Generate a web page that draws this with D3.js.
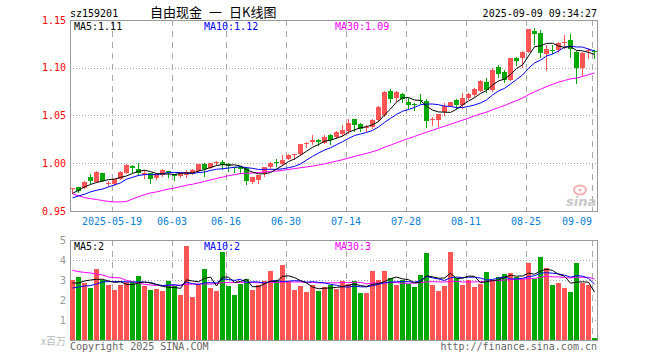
<!DOCTYPE html>
<html><head><meta charset="utf-8">
<script src="https://cdn.jsdelivr.net/npm/d3@7"></script>
<style>body{margin:0;background:#fff}svg{display:block}</style>
</head><body>
<svg id="c" width="660" height="360"></svg>
<script>
const symbol = "sz159201";
const titleParts = ["自由现金", "一", "日K线图"];
const timestamp = "2025-09-09 09:34:27";
const dates = [
"2025-05-08","2025-05-09","2025-05-12","2025-05-13","2025-05-14","2025-05-15","2025-05-16","2025-05-19","2025-05-20","2025-05-21",
"2025-05-22","2025-05-23","2025-05-26","2025-05-27","2025-05-28","2025-05-29","2025-05-30","2025-06-03","2025-06-04","2025-06-05",
"2025-06-06","2025-06-09","2025-06-10","2025-06-11","2025-06-12","2025-06-13","2025-06-16","2025-06-17","2025-06-18","2025-06-19",
"2025-06-20","2025-06-23","2025-06-24","2025-06-25","2025-06-26","2025-06-27","2025-06-30","2025-07-01","2025-07-02","2025-07-03",
"2025-07-04","2025-07-07","2025-07-08","2025-07-09","2025-07-10","2025-07-11","2025-07-14","2025-07-15","2025-07-16","2025-07-17",
"2025-07-18","2025-07-21","2025-07-22","2025-07-23","2025-07-24","2025-07-25","2025-07-28","2025-07-29","2025-07-30","2025-07-31",
"2025-08-01","2025-08-04","2025-08-05","2025-08-06","2025-08-07","2025-08-08","2025-08-11","2025-08-12","2025-08-13","2025-08-14",
"2025-08-15","2025-08-18","2025-08-19","2025-08-20","2025-08-21","2025-08-22","2025-08-25","2025-08-26","2025-08-27","2025-08-28",
"2025-08-29","2025-09-01","2025-09-02","2025-09-03","2025-09-04","2025-09-05","2025-09-08","2025-09-09"];
const openP = [
0.9740,0.9752,0.9745,0.9860,0.9800,0.9898,0.9785,0.9780,0.9839,0.9902,
0.9972,0.9940,0.9880,0.9898,0.9849,0.9877,0.9919,0.9888,0.9867,0.9880,
0.9891,0.9919,0.9993,0.9951,1.0008,1.0014,0.9993,0.9958,0.9964,0.9948,
0.9801,0.9822,0.9895,0.9964,1.0009,0.9990,1.0042,1.0085,1.0094,1.0205,
1.0223,1.0244,1.0216,1.0293,1.0279,1.0307,1.0338,1.0461,1.0411,1.0378,
1.0377,1.0453,1.0506,1.0757,1.0681,1.0726,1.0645,1.0621,1.0663,1.0652,
1.0450,1.0453,1.0534,1.0603,1.0663,1.0605,1.0681,1.0712,1.0760,1.0854,
1.0764,1.1011,1.0959,1.0872,1.1099,1.1099,1.1168,1.1385,1.1361,1.1141,
1.1185,1.1186,1.1265,1.1291,1.1168,1.0998,1.1180,1.1180];
const highP = [
0.9745,0.9755,0.9810,0.9885,0.9920,0.9900,0.9818,0.9840,0.9916,0.9988,
0.9979,1.0003,0.9930,0.9900,0.9902,0.9940,0.9920,0.9890,0.9900,0.9930,
0.9935,0.9995,0.9998,1.0005,1.0021,1.0035,1.0003,0.9964,0.9972,0.9961,
0.9860,0.9880,0.9960,1.0017,1.0048,1.0087,1.0101,1.0094,1.0200,1.0226,
1.0299,1.0254,1.0299,1.0307,1.0338,1.0404,1.0461,1.0467,1.0425,1.0401,
1.0464,1.0595,1.0757,1.0775,1.0752,1.0739,1.0681,1.0635,1.0726,1.0670,
1.0488,1.0520,1.0628,1.0645,1.0676,1.0733,1.0731,1.0783,1.0867,1.0890,
1.0995,1.1029,1.0977,1.1107,1.1116,1.1180,1.1408,1.1411,1.1396,1.1239,
1.1239,1.1274,1.1343,1.1354,1.1176,1.1165,1.1204,1.1186];
const lowP = [
0.9689,0.9700,0.9740,0.9797,0.9800,0.9810,0.9765,0.9775,0.9835,0.9900,
0.9909,0.9880,0.9846,0.9790,0.9836,0.9867,0.9860,0.9825,0.9860,0.9853,
0.9885,0.9910,0.9870,0.9948,0.9985,0.9943,0.9923,0.9912,0.9895,0.9786,
0.9795,0.9797,0.9867,0.9948,0.9975,0.9985,1.0040,1.0045,1.0090,1.0168,
1.0205,1.0192,1.0210,1.0205,1.0265,1.0296,1.0317,1.0338,1.0338,1.0341,
1.0370,1.0443,1.0495,1.0645,1.0652,1.0645,1.0576,1.0558,1.0628,1.0383,
1.0401,1.0390,1.0506,1.0600,1.0576,1.0576,1.0670,1.0705,1.0757,1.0750,
1.0757,1.0907,1.0848,1.0867,1.1026,1.1005,1.1165,1.1246,1.1116,1.0977,
1.1152,1.1168,1.1204,1.1110,1.0844,1.0925,1.1099,1.1099];
const closeP = [
0.9745,0.9713,0.9807,0.9818,0.9909,0.9818,0.9791,0.9836,0.9906,0.9985,
0.9951,0.9898,0.9895,0.9832,0.9885,0.9930,0.9895,0.9867,0.9895,0.9909,
0.9930,0.9993,0.9943,1.0003,1.0011,0.9979,0.9969,0.9954,0.9943,0.9818,
0.9853,0.9877,0.9958,1.0006,1.0005,1.0035,1.0084,1.0094,1.0199,1.0216,
1.0244,1.0223,1.0275,1.0244,1.0328,1.0349,1.0425,1.0398,1.0359,1.0383,
1.0453,1.0586,1.0750,1.0670,1.0743,1.0670,1.0610,1.0616,1.0652,1.0446,
1.0461,1.0513,1.0603,1.0639,1.0610,1.0687,1.0720,1.0775,1.0859,1.0764,
1.0977,1.0935,1.0872,1.1099,1.1074,1.1168,1.1403,1.1354,1.1152,1.1197,
1.1179,1.1263,1.1274,1.1194,1.0995,1.1158,1.1186,1.1165];
const volume = [
3.00,3.15,2.87,2.60,3.55,3.00,2.75,2.50,2.75,2.92,
2.90,3.20,2.72,2.50,2.55,2.45,2.95,2.70,2.25,4.70,
2.15,2.75,3.55,2.60,2.45,4.40,2.70,2.25,2.80,3.05,
2.50,2.75,2.95,3.45,3.00,3.75,2.90,2.50,2.70,2.40,
2.75,2.45,2.65,2.75,2.55,2.95,2.80,2.95,2.35,2.35,
3.45,3.00,3.45,3.08,2.75,3.00,2.80,2.65,3.25,4.35,
2.75,2.45,2.70,4.40,3.12,2.75,3.00,2.65,2.80,3.40,
3.00,3.15,3.30,3.35,3.15,3.05,3.85,3.05,4.15,3.60,
2.75,2.85,2.60,2.40,3.85,2.85,2.75,0.10];
// moving-average values for the first bars (history before the window)
const ma5Lead = [0.9685,0.9716,0.9752,0.9778];
const ma10Lead = [0.9637,0.9658,0.9675,0.9700,0.9717,0.9730,0.9752,0.9773,0.9794];
const ma30Lead = [0.9680,0.9660,0.9640,0.9630,0.9620,0.9610,0.9600,0.9595,0.9595,0.9600,
0.9625,0.9650,0.9670,0.9690,0.9700,0.9715,0.9730,0.9740,0.9755,0.9770,
0.9780,0.9795,0.9810,0.9825,0.9840,0.9855,0.9870,0.9880,0.9893];
const volMa5Lead = [2.85,2.85,2.95,3.00];
const volMa10Lead = [2.60,2.65,2.70,2.72,2.80,2.90,2.92,2.92,2.92];
const volMa30Lead = [3.48,3.42,3.38,3.35,3.30,3.25,3.15,3.12,3.10,2.98,
2.92,2.85,2.78,2.75,2.73,2.72,2.72,2.73,2.75,2.78,
2.80,2.80,2.80,2.80,2.82,2.87,2.88,2.88,2.88];
const priceTicks = [1.15,1.10,1.05,1.00,0.95];
const priceGrid = [1.10,1.05,1.00];
const volTicks = [5,4,3,2,1];
const volGrid = [4,3,2,1];
const volUnit = "x百万";
const dateTicks = ["2025-05-19","2025-06-03","2025-06-16","2025-06-30","2025-07-14","2025-07-28","2025-08-11","2025-08-25","2025-09-09"];
const dateTickLabels = ["2025-05-19","06-03","06-16","06-30","07-14","07-28","08-11","08-25","09-09"];
const maNames = ["MA5","MA10","MA30"];
const priceMaText = ["1.11","1.12","1.09"];
const volMaText = ["2","2","3"];
const copyright = "Copyright 2025 SINA.COM";
const siteUrl = "http://finance.sina.com.cn";

const UP = "#ff5555", DOWN = "#00a800";
const maColors = ["#000000","#0000ff","#ff00ff"];
const mono = "'DejaVu Sans Mono','Liberation Mono',monospace";
const n = dates.length;

function movingAvg(arr, p, lead) {
  return arr.map((v, i) => i < p - 1 ? lead[i] : d3.mean(arr.slice(i - p + 1, i + 1)));
}

const svg = d3.select("#c");
const L = 70, R = 597;
const x = d3.scaleLinear().domain([0, n]).range([L, L + 6 * n]);
const yP = d3.scaleLinear().domain([0.95, 1.15]).range([211, 20]);
const yV = d3.scaleLinear().domain([0, 5]).range([340, 240]);
const cx = i => Math.round(x(i)) + 2.5;

svg.append("rect").attr("width", 660).attr("height", 360).attr("fill", "#fff");

// header texts
svg.append("text").attr("x", 70).attr("y", 17).attr("font-family", mono).attr("font-size", 10).attr("fill", "#000").text(symbol);
const tt = svg.append("text").attr("y", 17).attr("font-family", "'Noto Sans CJK SC',sans-serif").attr("font-size", 13).attr("fill", "#000");
const titleX = [150, 209, 229];
titleParts.forEach((t, k) => tt.append("tspan").attr("x", titleX[k]).text(t));
svg.append("text").attr("x", 597).attr("y", 17).attr("text-anchor", "end").attr("font-family", mono).attr("font-size", 10).attr("fill", "#000").text(timestamp);

const tickIdx = dateTicks.map(d => dates.indexOf(d));

function panel(top, bottom, yScale, grid) {
  const g = svg.append("g");
  g.selectAll("line.h").data(grid).join("line")
    .attr("x1", L).attr("x2", R).attr("y1", d => Math.round(yScale(d)) + 0.5).attr("y2", d => Math.round(yScale(d)) + 0.5)
    .attr("stroke", "#a8a8a8").attr("stroke-dasharray", "1,2");
  g.selectAll("line.v").data(tickIdx).join("line")
    .attr("x1", i => Math.round(x(i)) + 0.5).attr("x2", i => Math.round(x(i)) + 0.5)
    .attr("y1", top).attr("y2", bottom)
    .attr("stroke", "#a8a8a8").attr("stroke-dasharray", "6,5");
  g.append("rect").attr("x", L + 0.5).attr("y", top + 0.5).attr("width", R - L).attr("height", bottom - top)
    .attr("fill", "none").attr("stroke", "#999");
  return g;
}
panel(20, 211, yP, priceGrid);
panel(240, 340, yV, volGrid);

// watermark
const wm = svg.append("g");
wm.append("ellipse").attr("cx", 580).attr("cy", 190).attr("rx", 6).attr("ry", 4.5).attr("fill", "none").attr("stroke", "#f3b0b0").attr("stroke-width", 2);
wm.append("circle").attr("cx", 580).attr("cy", 190).attr("r", 1.6).attr("fill", "#f3b0b0");
wm.append("text").attr("x", 566).attr("y", 206).attr("font-family", "'DejaVu Sans',sans-serif").attr("font-weight", "bold").attr("font-style", "italic").attr("font-size", 13).attr("fill", "#c8c8c8").text("sina");

// candles
const isUp = i => closeP[i] >= openP[i];
const cg = svg.append("g").selectAll("g").data(d3.range(n)).join("g");
cg.append("line")
  .attr("x1", cx).attr("x2", cx)
  .attr("y1", i => Math.round(yP(highP[i]))).attr("y2", i => Math.round(yP(lowP[i])) + 1)
  .attr("stroke", i => isUp(i) ? UP : DOWN);
cg.append("rect")
  .attr("x", i => Math.round(x(i)))
  .attr("width", 5)
  .attr("y", i => Math.round(yP(Math.max(openP[i], closeP[i]))))
  .attr("height", i => Math.max(1, Math.round(yP(Math.min(openP[i], closeP[i]))) - Math.round(yP(Math.max(openP[i], closeP[i])))))
  .attr("fill", i => isUp(i) ? UP : DOWN);

// volume bars
svg.append("g").selectAll("rect").data(d3.range(n)).join("rect")
  .attr("x", i => Math.round(x(i)))
  .attr("width", 5)
  .attr("y", i => Math.round(yV(volume[i])))
  .attr("height", i => 340 - Math.round(yV(volume[i])))
  .attr("fill", i => isUp(i) ? UP : DOWN);

// moving averages
const priceMA = [movingAvg(closeP, 5, ma5Lead), movingAvg(closeP, 10, ma10Lead), movingAvg(closeP, 30, ma30Lead)];
const volMA = [movingAvg(volume, 5, volMa5Lead), movingAvg(volume, 10, volMa10Lead), movingAvg(volume, 30, volMa30Lead)];
[2, 1, 0].forEach(k => {
  svg.append("path").datum(priceMA[k])
    .attr("d", d3.line().x((d, i) => cx(i)).y(d => yP(d)))
    .attr("fill", "none").attr("stroke", maColors[k]).attr("stroke-width", 1);
  svg.append("path").datum(volMA[k])
    .attr("d", d3.line().x((d, i) => cx(i)).y(d => yV(d)))
    .attr("fill", "none").attr("stroke", maColors[k]).attr("stroke-width", 1);
});

// MA labels
const maX = [74, 204, 335];
maNames.forEach((m, k) => {
  svg.append("text").attr("x", maX[k]).attr("y", 29.5).attr("font-family", mono).attr("font-size", 10).attr("fill", maColors[k]).text(m + ":" + priceMaText[k]);
  svg.append("text").attr("x", maX[k]).attr("y", 250).attr("font-family", mono).attr("font-size", 10).attr("fill", maColors[k]).text(m + ":" + volMaText[k]);
});

// price axis labels
svg.append("g").selectAll("text").data(priceTicks).join("text")
  .attr("x", 66).attr("y", d => yP(d) + 3.5).attr("text-anchor", "end")
  .attr("font-family", mono).attr("font-size", 10).attr("fill", "#ff0000")
  .text(d => d3.format(".2f")(d));

// volume axis labels
svg.append("g").selectAll("text").data(volTicks).join("text")
  .attr("x", 66).attr("y", d => yV(d) + 3.5).attr("text-anchor", "end")
  .attr("font-family", "'DejaVu Sans',sans-serif").attr("font-size", 10).attr("fill", "#999")
  .text(d => d);
svg.append("text").attr("x", 66).attr("y", 345).attr("text-anchor", "end")
  .attr("font-family", "'Noto Sans CJK SC',sans-serif").attr("font-size", 10).attr("fill", "#bbb").text(volUnit);

// date labels
svg.append("g").selectAll("text").data(tickIdx).join("text")
  .attr("x", (i, k) => {
    const w = dateTickLabels[k].length * 6.02;
    const xc = Math.round(x(i));
    return Math.min(xc, R - 5 - w / 2);
  })
  .attr("y", 225).attr("text-anchor", "middle")
  .attr("font-family", mono).attr("font-size", 10).attr("fill", "#0a80d8")
  .text((i, k) => dateTickLabels[k]);

// footer
svg.append("text").attr("x", 70).attr("y", 350).attr("font-family", mono).attr("font-size", 10).attr("fill", "#666").text(copyright);
svg.append("text").attr("x", 597).attr("y", 350).attr("text-anchor", "end").attr("font-family", mono).attr("font-size", 10).attr("fill", "#666").text(siteUrl);
</script>
</body></html>
